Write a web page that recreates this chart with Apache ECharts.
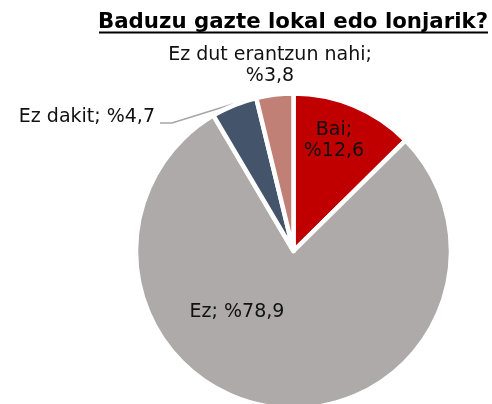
<!DOCTYPE html>
<html>
<head>
<meta charset="utf-8">
<script src="https://cdn.jsdelivr.net/npm/echarts@6/dist/echarts.min.js"></script>
<style>
  html, body { margin: 0; padding: 0; background: #fff; }
  #chart { width: 492px; height: 404px; }
</style>
</head>
<body>
<div id="chart"></div>
<script>
// data
const categories = ['Bai', 'Ez', 'Ez dakit', 'Ez dut erantzun nahi'];
const values = [12.6, 78.9, 4.7, 3.8];
const colors = ['#C00000', '#AEAAAA', '#44546A', '#C18076'];

// where each label sits (x, y, align, line break after ";")
const labelPlaces = [
  { x: 334, y: 141, align: 'center', br: true },
  { x: 237, y: 312, align: 'center', br: false },
  { x: 155, y: 117, align: 'right', br: false },
  { x: 270, y: 66, align: 'center', br: true }
];
const leaderLine = [[233, 104], [172, 123], [160, 123]];

const chart = echarts.init(document.getElementById('chart'));

const pieData = categories.map((name, i) => ({
  name: name,
  value: values[i],
  itemStyle: { color: colors[i] },
  labelLine: { show: i === 2 }
}));

const option = {
  animation: false,
  title: {
    text: 'Baduzu gazte lokal edo lonjarik?',
    right: 4,
    top: 12,
    padding: 0,
    textStyle: {
      fontFamily: 'DejaVu Sans',
      fontSize: 21.3,
      fontWeight: 'bold',
      color: '#000'
    }
  },
  graphic: [
    {
      type: 'line',
      shape: { x1: 99, y1: 32.5, x2: 488, y2: 32.5 },
      style: { stroke: '#000', lineWidth: 2 }
    }
  ],
  series: [
    {
      type: 'pie',
      center: [293.5, 251],
      radius: 157.5,
      startAngle: 90,
      clockwise: true,
      itemStyle: { borderColor: '#fff', borderWidth: 4.5 },
      label: {
        show: true,
        position: 'outside',
        fontFamily: 'DejaVu Sans',
        fontSize: 19,
        lineHeight: 21,
        color: '#111',
        formatter: p => {
          const sep = labelPlaces[p.dataIndex].br ? ';\n' : '; ';
          return p.name + sep + '%' + String(p.value).replace('.', ',');
        }
      },
      labelLine: {
        lineStyle: { color: '#A6A6A6', width: 1.5 }
      },
      labelLayout: params => {
        const p = labelPlaces[params.dataIndex];
        const out = { x: p.x, y: p.y, align: p.align, verticalAlign: 'middle' };
        if (params.dataIndex === 2) out.labelLinePoints = leaderLine;
        return out;
      },
      emphasis: { disabled: true },
      data: pieData
    }
  ]
};

chart.setOption(option);
</script>
</body>
</html>
